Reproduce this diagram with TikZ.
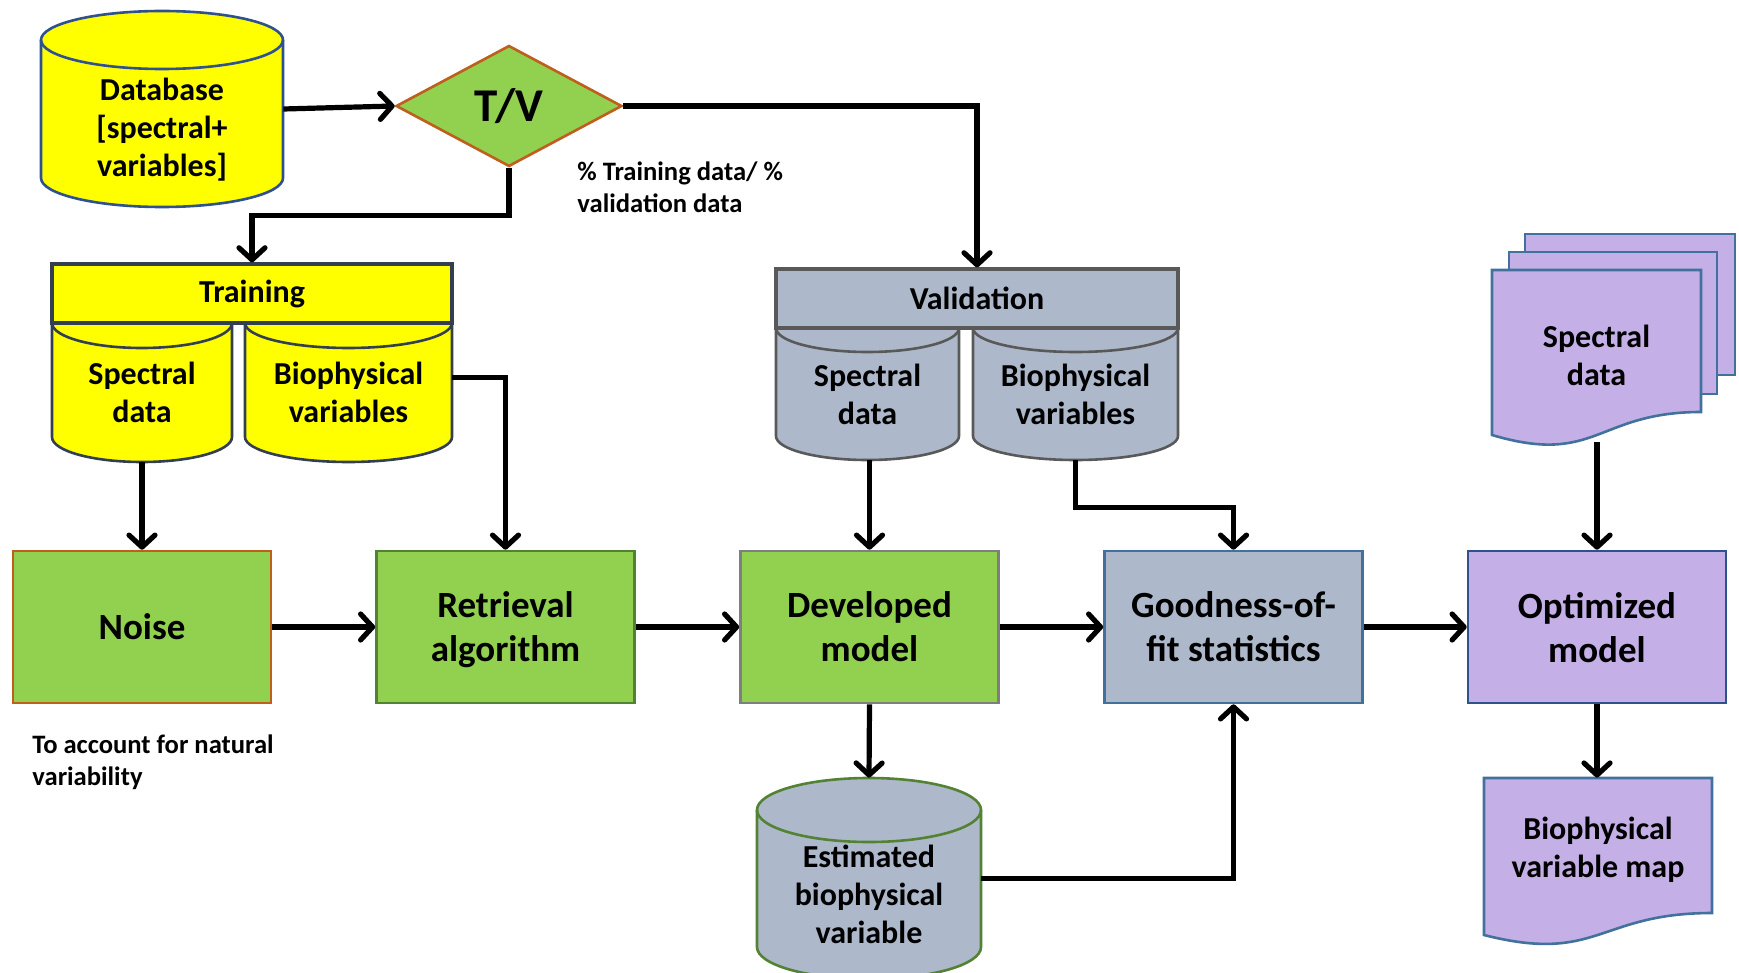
\documentclass[tikz,border=0pt]{standalone}
\usepackage{fontspec}
\setmainfont{Carlito}
\usetikzlibrary{arrows.meta,shapes.geometric}

\definecolor{yellowF}{RGB}{255,255,0}
\definecolor{dbB}{RGB}{47,82,143}
\definecolor{trainB}{RGB}{51,63,80}
\definecolor{greenF}{RGB}{146,208,80}
\definecolor{brownB}{RGB}{190,95,30}
\definecolor{retB}{RGB}{84,130,53}
\definecolor{devB}{RGB}{127,127,127}
\definecolor{greyF}{RGB}{173,185,202}
\definecolor{gofB}{RGB}{65,113,156}
\definecolor{valB}{RGB}{89,89,89}
\definecolor{purpleF}{RGB}{196,176,230}
\definecolor{optB}{RGB}{47,82,143}

% full cylinder: style, x left, x right, y top, y bottom, ellipse y radius
\newcommand\mycyl[6]{%
  \path[#1] (#2,{-(#4+#6)}) -- (#2,{-(#5-#6)})
     arc[start angle=180,end angle=360,x radius={(#3-#2)/2},y radius=#6]
     -- (#3,{-(#4+#6)})
     arc[start angle=0,end angle=180,x radius={(#3-#2)/2},y radius=#6] -- cycle;
  \path[#1,fill=none] (#2,{-(#4+#6)})
     arc[start angle=180,end angle=360,x radius={(#3-#2)/2},y radius=#6];
}
% cylinder whose top lies under a header bar
\newcommand\mycylopen[6]{%
  \path[#1] (#2,-#4) -- (#2,{-(#5-#6)})
     arc[start angle=180,end angle=360,x radius={(#3-#2)/2},y radius=#6]
     -- (#3,-#4) -- cycle;
  \path[#1,fill=none] (#2,-#4)
     arc[start angle=180,end angle=360,x radius={(#3-#2)/2},y radius=#6];
}

\begin{document}
\begin{tikzpicture}[x=0.5pt,y=0.5pt,
  font=\bfseries,
  conn/.style={line width=2.6pt,-{Straight Barb[length=6pt,width=13pt,round]}},
  proc/.style={rectangle,draw,minimum width=129pt,minimum height=76pt,inner sep=0pt,
    text depth=0pt,line width=1.3pt,align=center,font=\bfseries\fontsize{18.5}{22}\selectfont},
  lbl/.style={align=center,inner sep=0pt,font=\bfseries\fontsize{16}{19}\selectfont},
  head/.style={rectangle,draw,line width=1.6pt,inner sep=0pt,minimum height=29.5pt,
    font=\bfseries\fontsize{16}{19}\selectfont},
  shp/.style={line width=1.3pt},
  note/.style={align=left,anchor=west,inner sep=0pt,font=\bfseries\fontsize{13.3}{16}\selectfont},
]
\clip (0,0) rectangle (1739,-973);
\fill[white] (0,0) rectangle (1739,-973);

% Database
\mycyl{shp,draw=dbB,fill=yellowF}{41}{283}{11}{207}{29}
\node[minimum width=121pt,minimum height=98pt,inner sep=0pt] (db) at (162,-109) {};
\node[lbl] (dbT) at (162,-130) {Database\\{[}spectral+\\variables{]}};

% Split decision
\node[diamond,draw=brownB,fill=greenF,line width=1.3pt,minimum width=113pt,
  minimum height=60.5pt,inner sep=0pt,font=\bfseries\fontsize{23.5}{28}\selectfont]
  (tv) at (509,-106) {T/V};
\node[note] (tvN) at (577,-187) {\% Training data/ \%\\validation data};

% Training set
\mycylopen{shp,draw=trainB,fill=yellowF}{52}{232}{323}{462}{25}
\mycylopen{shp,draw=trainB,fill=yellowF}{245}{452}{323}{462}{25}
\node[head,draw=trainB,fill=yellowF,minimum width=200pt] (thead) at (252,-293.5) {\raisebox{-1pt}{Training}};
\node[lbl,minimum width=90pt,minimum height=69.5pt] (tspec) at (142,-392.5) {Spectral\\data};
\node[lbl,minimum width=103.5pt,minimum height=69.5pt] (tbio) at (348.5,-392.5) {Biophysical\\variables};

% Validation set
\mycylopen{shp,draw=valB,fill=greyF}{776}{959}{328}{460}{24}
\mycylopen{shp,draw=valB,fill=greyF}{973}{1178}{328}{460}{24}
\node[head,draw=valB,fill=greyF,minimum width=201pt] (vhead) at (977,-298.5) {Validation};
\node[lbl,minimum width=91.5pt,minimum height=66pt] (vspec) at (867.5,-394) {Spectral\\data};
\node[lbl,minimum width=102.5pt,minimum height=66pt] (vbio) at (1075.5,-394) {Biophysical\\variables};

% Processing row
\node[proc,draw=brownB,fill=greenF] (noise) at (142,-627) {Noise};
\node[proc,draw=retB,fill=greenF] (ret) at (505.5,-627) {Retrieval\\algorithm};
\node[proc,draw=devB,fill=greenF] (dev) at (869.5,-627) {Developed\\model};
\node[proc,draw=gofB,fill=greyF] (gof) at (1233.5,-627) {Goodness-of-\\fit statistics};
\node[proc,draw=optB,fill=purpleF] (opt) at (1597,-627) {Optimized\\model};
\node[note] (noiseN) at (32,-762) {To account for natural\\variability};

% Estimated variable store
\mycyl{shp,draw=retB,fill=greyF}{757}{981}{778}{979}{32}
\node[minimum width=112pt,minimum height=100.5pt,inner sep=0pt] (est) at (869,-878.5) {};
\node[lbl] (estT) at (869,-894) {Estimated\\biophysical\\variable};

% Stack of spectral images
\path[shp,draw=gofB,fill=purpleF] (1525,-234) rectangle (1735,-375);
\path[shp,draw=gofB,fill=purpleF] (1509,-252) rectangle (1717,-394);
\path[shp,draw=gofB,fill=purpleF] (1492,-270) -- (1701,-270) -- (1701,-412)
  .. controls (1596.5,-412) and (1596.5,-466) .. (1492,-435) -- cycle;
\node[lbl,minimum width=104.5pt,minimum height=87pt] (spec) at (1596.5,-355) {Spectral\\data};

% Output map
\path[shp,draw=gofB,fill=purpleF] (1484,-778) -- (1712,-778) -- (1712,-913)
  .. controls (1598,-913) and (1598,-964) .. (1484,-935) -- cycle;
\node[minimum width=114pt,minimum height=82.5pt,inner sep=0pt] (map) at (1598,-860.5) {};
\node[lbl] (mapT) at (1598,-850) {Biophysical\\variable map};

% Connectors
\draw[conn] (db.east) -- (tv.west);
\draw[conn] (tv.south) -- ++(0,-48) -| (thead.north);
\draw[conn] (tv.east) -| (vhead.north);
\draw[conn] (tspec.south) -- (noise.north);
\draw[conn] ([yshift=7.5pt]tbio.east) -| (ret.north);
\draw[conn] (noise.east) -- (ret.west);
\draw[conn] (ret.east) -- (dev.west);
\draw[conn] (dev.east) -- (gof.west);
\draw[conn] (gof.east) -- (opt.west);
\draw[conn] (vspec.south -| dev.north) -- (dev.north);
\draw[conn] (vbio.south) -- ++(0,-47) -| (gof.north);
\draw[conn] (dev.south) -- (est.north);
\draw[conn] (est.east) -| (gof.south);
\draw[conn] (spec.south -| opt.north) -- (opt.north);
\draw[conn] (opt.south) -- (map.north -| opt.south);
\end{tikzpicture}
\end{document}
